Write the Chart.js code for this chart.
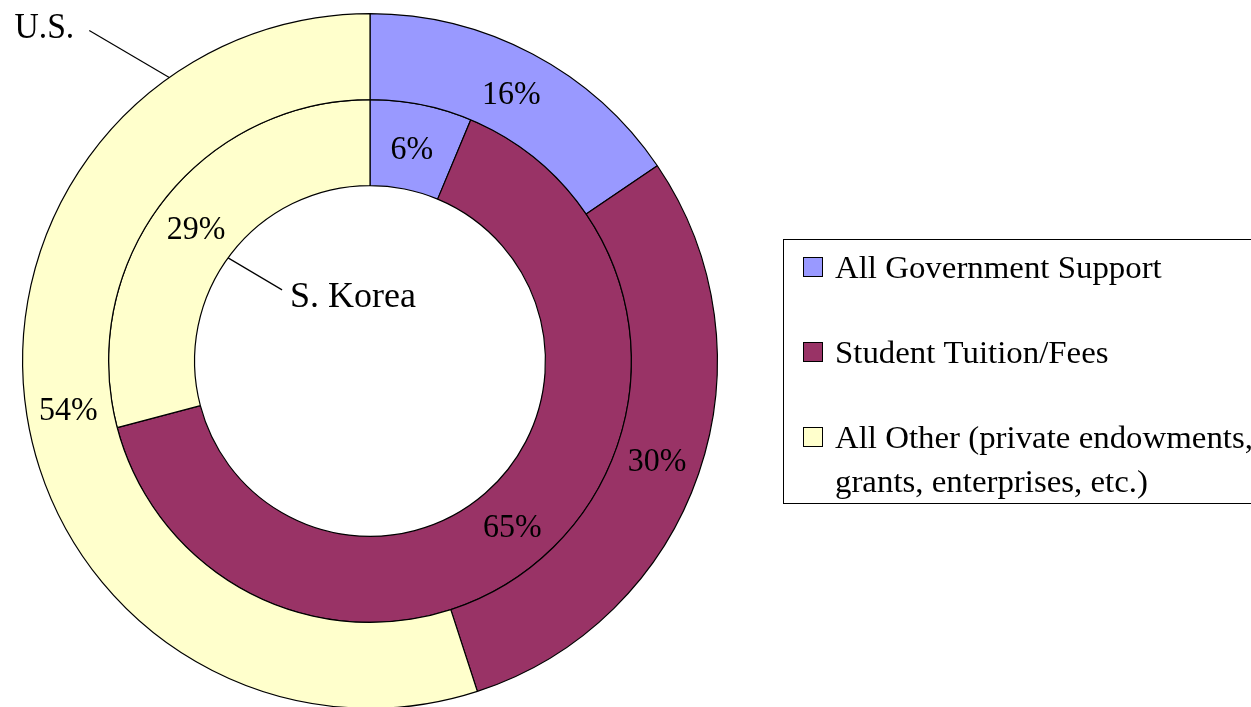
<!DOCTYPE html>
<html><head><meta charset="utf-8">
<script src="https://cdn.jsdelivr.net/npm/chart.js@4"></script>
<style>html,body{margin:0;padding:0;background:#fff;overflow:hidden}
#wrap{position:relative;width:1251px;height:720px}</style>
</head><body><div id="wrap"><canvas id="c" width="1251" height="720"></canvas></div>
<script>
const categories = ['All Government Support', 'Student Tuition/Fees', 'All Other (private endowments, grants, enterprises, etc.)'];
const legendLines = [['All Government Support'], ['Student Tuition/Fees'], ['All Other (private endowments,', 'grants, enterprises, etc.)']];
const seriesNames = ['U.S.', 'S. Korea'];
const usValues = [15.5, 29.5, 55];
const koreaValues = [6.3, 64.6, 29.1];
const usLabels = ['16%', '30%', '54%'];
const koreaLabels = ['6%', '65%', '29%'];
const colors = ['#9999FF', '#993366', '#FFFFCC'];

const FONT = '"Liberation Serif", "Times New Roman", serif';

function stretchText(ctx, text, x, y, align, sx) {
  ctx.save();
  ctx.translate(x, y);
  ctx.scale(sx, 1);
  ctx.textAlign = align;
  ctx.fillText(text, 0, 0);
  ctx.restore();
}

const decor = {
  id: 'decor',
  afterDatasetsDraw(chart) {
    const ctx = chart.ctx;
    ctx.save();
    ctx.fillStyle = '#000';
    ctx.font = '33px ' + FONT;
    ctx.textBaseline = 'middle';
    const labelSets = [usLabels, koreaLabels];
    chart.data.datasets.forEach((ds, di) => {
      const meta = chart.getDatasetMeta(di);
      meta.data.forEach((arc, i) => {
        const p = arc.getCenterPoint();
        stretchText(ctx, labelSets[di][i], p.x - 1, p.y + 3, 'center', 0.97);
      });
    });
    // leader lines for series names
    const outer = chart.getDatasetMeta(0).data[0];
    const inner = chart.getDatasetMeta(1).data[0];
    const cx = outer.x, cy = outer.y;
    ctx.strokeStyle = '#000';
    ctx.lineWidth = 1.2;
    ctx.textBaseline = 'alphabetic';
    // U.S.
    let a = (-90 - 35.3) * Math.PI / 180;
    let ex = cx + outer.outerRadius * Math.cos(a), ey = cy + outer.outerRadius * Math.sin(a);
    ctx.beginPath(); ctx.moveTo(ex, ey); ctx.lineTo(ex - 80, ey - 47); ctx.stroke();
    ctx.font = '35px ' + FONT;
    stretchText(ctx, seriesNames[0], ex - 95, ey - 39, 'right', 0.96);
    // S. Korea
    a = (-90 - 54) * Math.PI / 180;
    ex = cx + inner.innerRadius * Math.cos(a); ey = cy + inner.innerRadius * Math.sin(a);
    ctx.beginPath(); ctx.moveTo(ex, ey); ctx.lineTo(ex + 54, ey + 32); ctx.stroke();
    ctx.font = '36px ' + FONT;
    stretchText(ctx, seriesNames[1], ex + 62, ey + 49, 'left', 1.0);
    ctx.restore();
  },
  afterDraw(chart) {
    const ctx = chart.ctx;
    ctx.save();
    ctx.strokeStyle = '#000';
    ctx.lineWidth = 1;
    ctx.strokeRect(783.5, 239.5, 520, 264);
    const rowBase = [278, 363, 448];
    ctx.font = '31px ' + FONT;
    ctx.textBaseline = 'alphabetic';
    legendLines.forEach((lines, i) => {
      ctx.fillStyle = colors[i];
      ctx.fillRect(803.5, rowBase[i] - 20.5, 19, 19);
      ctx.strokeRect(803.5, rowBase[i] - 20.5, 19, 19);
      ctx.fillStyle = '#000';
      lines.forEach((t, j) => stretchText(ctx, t, 835, rowBase[i] + j * 44, 'left', 1.06));
    });
    ctx.restore();
  }
};

new Chart(document.getElementById('c'), {
  type: 'doughnut',
  data: {
    labels: categories,
    datasets: [
      { label: seriesNames[0], data: usValues, backgroundColor: colors, borderColor: '#000', borderWidth: 1.2 },
      { label: seriesNames[1], data: koreaValues, backgroundColor: colors, borderColor: '#000', borderWidth: 1.2 }
    ]
  },
  options: {
    responsive: false,
    animation: false,
    devicePixelRatio: 1,
    cutout: '50.5%',
    layout: { padding: { left: 22, right: 533, top: 13, bottom: 11 } },
    plugins: { legend: { display: false }, tooltip: { enabled: false } }
  },
  plugins: [decor]
});
</script></body></html>
